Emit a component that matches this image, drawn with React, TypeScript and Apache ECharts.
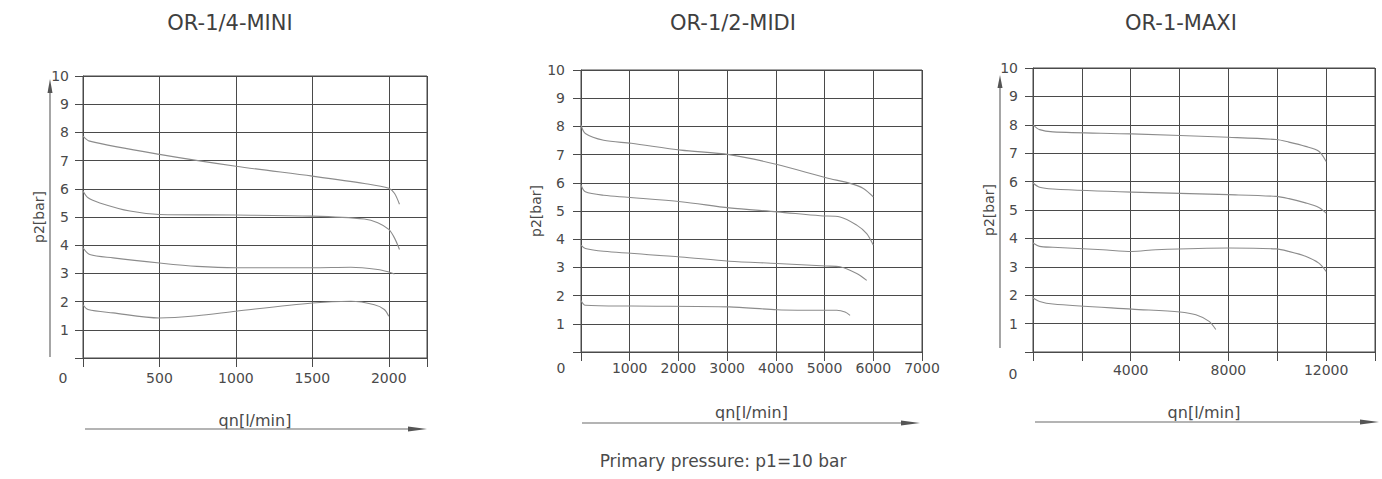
import React, { useEffect, useRef } from "react";
import * as echarts from "echarts";

const titles = ["OR-1/4-MINI", "OR-1/2-MIDI", "OR-1-MAXI"];
const xName = "qn[l/min]";
const yName = "p2[bar]";
const footnote = "Primary pressure: p1=10 bar";

// x-axis extents and tick steps for each chart
const xMax = [2250, 7000, 14000];
const xStep = [500, 1000, 2000];
const xLabelStep = [500, 1000, 4000];
const xLabelLast = [2000, 7000, 12000];

// OR-1/4-MINI curves [qn, p2]
const mini8 = [[0, 7.87], [44, 7.69], [500, 7.22], [1000, 6.8], [1500, 6.45], [1840, 6.19], [2000, 6.02], [2037, 5.84], [2070, 5.45]];
const mini6 = [[0, 5.92], [33, 5.68], [110, 5.5], [307, 5.21], [500, 5.09], [1000, 5.07], [1500, 5.03], [1840, 4.93], [1928, 4.8], [2000, 4.56], [2037, 4.26], [2070, 3.85]];
const mini4 = [[0, 3.91], [44, 3.67], [197, 3.55], [500, 3.37], [745, 3.25], [1000, 3.2], [1500, 3.2], [1752, 3.22], [1928, 3.14], [2000, 3.05], [2037, 2.98]];
const mini2 = [[0, 1.89], [33, 1.72], [197, 1.6], [500, 1.42], [745, 1.5], [1000, 1.66], [1500, 1.95], [1752, 2.01], [1906, 1.89], [1971, 1.72], [2000, 1.48]];

// OR-1/2-MIDI curves
const midi8 = [[0, 8.05], [89, 7.75], [465, 7.51], [1032, 7.4], [2050, 7.16], [3042, 7.0], [4026, 6.65], [5031, 6.18], [5523, 5.98], [5796, 5.8], [6000, 5.5]];
const midi6 = [[0, 5.92], [89, 5.68], [465, 5.56], [2050, 5.33], [3042, 5.11], [4026, 4.97], [4908, 4.83], [5318, 4.79], [5660, 4.5], [5865, 4.2], [6000, 3.79]];
const midi4 = [[0, 3.79], [89, 3.67], [465, 3.57], [2050, 3.37], [3042, 3.22], [4026, 3.14], [5031, 3.05], [5318, 3.02], [5660, 2.78], [5865, 2.54]];
const midi2 = [[0, 1.83], [89, 1.66], [1032, 1.63], [3042, 1.6], [4026, 1.5], [5031, 1.48], [5250, 1.48], [5420, 1.42], [5523, 1.3]];

// OR-1-MAXI curves
const maxi8 = [[0, 8.0], [272, 7.83], [816, 7.75], [4041, 7.68], [8000, 7.56], [9959, 7.48], [10476, 7.39], [11156, 7.24], [11700, 7.07], [12000, 6.71]];
const maxi6 = [[0, 5.95], [272, 5.8], [816, 5.74], [4041, 5.63], [8000, 5.54], [9959, 5.48], [10476, 5.4], [11156, 5.25], [11700, 5.09], [12000, 4.89]];
const maxi4 = [[0, 3.84], [272, 3.72], [816, 3.69], [2857, 3.6], [4041, 3.54], [5034, 3.6], [8000, 3.66], [9959, 3.63], [10476, 3.54], [11156, 3.37], [11700, 3.13], [12000, 2.84]];
const maxi2 = [[0, 1.9], [272, 1.78], [816, 1.69], [4041, 1.51], [6014, 1.41], [6667, 1.31], [7211, 1.08], [7483, 0.79]];

const curves = [
  [mini8, mini6, mini4, mini2],
  [midi8, midi6, midi4, midi2],
  [maxi8, maxi6, maxi4, maxi2],
];

const GRID_COLOR = "#4a4a4a";
const CURVE_COLOR = "#8c8c8c";
const TEXT_COLOR = "#4a4a4a";
const FONT = "'DejaVu Sans', Verdana, sans-serif";

const grids = [
  { left: 83, top: 76, width: 344, height: 282 },
  { left: 581, top: 70, width: 341, height: 282 },
  { left: 1033, top: 68, width: 342, height: 284 },
];
const yLabelMargin = [14, 16, 15];
const xLabelMargin = [13, 9, 11];
const yNameGap = [37, 37, 33];
const xNameGap = [54, 52, 52];
const titleX = [230, 733, 1181];

export default function App() {
  const ref = useRef<HTMLDivElement>(null);
  useEffect(() => {
    if (!ref.current) return;
    const chart = echarts.init(ref.current, null, { renderer: "svg" });

    const xAxis = grids.map((_, i) => ({
      type: "value",
      gridIndex: i,
      min: 0,
      max: xMax[i],
      interval: xStep[i],
      name: xName,
      nameLocation: "middle",
      nameGap: xNameGap[i],
      nameTextStyle: { color: TEXT_COLOR, fontSize: 16, fontFamily: FONT },
      axisLine: { show: true, lineStyle: { color: GRID_COLOR, width: 1 } },
      axisTick: { show: true, length: 9, lineStyle: { color: GRID_COLOR, width: 1 } },
      splitLine: { show: true, lineStyle: { color: GRID_COLOR, width: 1 } },
      axisLabel: {
        color: TEXT_COLOR,
        fontSize: 14,
        fontFamily: FONT,
        margin: xLabelMargin[i],
        formatter: (v: number) => {
          if (v === 0) return "{z|0}";
          if (v % xLabelStep[i] === 0 && v <= xLabelLast[i]) return String(v);
          return "";
        },
        rich: { z: { padding: [i === 2 ? 4 : 0, 40, 0, 0], color: TEXT_COLOR, fontSize: 14, fontFamily: FONT } },
      },
    }));

    const yAxis = grids.map((_, i) => ({
      type: "value",
      gridIndex: i,
      min: 0,
      max: 10,
      interval: 1,
      name: yName,
      nameLocation: "middle",
      nameGap: yNameGap[i],
      nameRotate: 90,
      nameTextStyle: { color: TEXT_COLOR, fontSize: 14, fontFamily: FONT },
      axisLine: { show: true, lineStyle: { color: GRID_COLOR, width: 1 } },
      axisTick: { show: true, length: 8, lineStyle: { color: GRID_COLOR, width: 1 } },
      splitLine: { show: true, lineStyle: { color: GRID_COLOR, width: 1 } },
      axisLabel: {
        color: TEXT_COLOR,
        fontSize: 14,
        fontFamily: FONT,
        margin: yLabelMargin[i],
        formatter: (v: number) => (v === 0 ? "" : String(v)),
      },
    }));

    const series: any[] = [];
    curves.forEach((set, i) => {
      set.forEach((data) => {
        series.push({
          type: "line",
          xAxisIndex: i,
          yAxisIndex: i,
          data,
          smooth: 0.3,
          showSymbol: false,
          symbol: "none",
          silent: true,
          lineStyle: { color: CURVE_COLOR, width: 1.1 },
        });
      });
    });

    const arrowStyle = { stroke: "#6a6a6a", lineWidth: 1.2 };
    const headStyle = { fill: "#555" };
    const graphic: any[] = [
      // y arrows (charts 1 and 3)
      { type: "line", shape: { x1: 50, y1: 357, x2: 50, y2: 90 }, style: arrowStyle },
      { type: "polygon", shape: { points: [[50, 79], [47.5, 93], [52.5, 93]] }, style: headStyle },
      { type: "line", shape: { x1: 1000, y1: 348, x2: 1000, y2: 86 }, style: arrowStyle },
      { type: "polygon", shape: { points: [[1000, 75], [997.5, 88], [1002.5, 88]] }, style: headStyle },
      // x arrows
      { type: "line", shape: { x1: 85, y1: 429, x2: 412, y2: 429 }, style: arrowStyle },
      { type: "polygon", shape: { points: [[427, 429], [408, 426.5], [408, 431.5]] }, style: headStyle },
      { type: "line", shape: { x1: 582, y1: 423, x2: 905, y2: 423 }, style: arrowStyle },
      { type: "polygon", shape: { points: [[920, 423], [901, 420.5], [901, 425.5]] }, style: headStyle },
      { type: "line", shape: { x1: 1035, y1: 422, x2: 1364, y2: 422 }, style: arrowStyle },
      { type: "polygon", shape: { points: [[1379, 422], [1360, 419.5], [1360, 424.5]] }, style: headStyle },
      {
        type: "text",
        x: 723,
        y: 461,
        style: { text: footnote, fill: TEXT_COLOR, font: `17px ${FONT}`, textAlign: "center", textVerticalAlign: "middle" },
      },
      ...titles.map((t, i) => ({
        type: "text",
        x: titleX[i],
        y: 23,
        style: { text: t, fill: "#3f3f3f", font: `21px ${FONT}`, textAlign: "center", textVerticalAlign: "middle" },
      })),
    ];

    chart.setOption({
      animation: false,
      backgroundColor: "#ffffff",
      grid: grids.map((g) => ({ ...g, show: true, borderColor: GRID_COLOR, borderWidth: 1, backgroundColor: "transparent" })),
      xAxis,
      yAxis,
      series,
      graphic,
    });
    return () => chart.dispose();
  }, []);
  return <div ref={ref} style={{ position: "absolute", left: 0, top: 0, width: 1382, height: 479 }} />;
}
